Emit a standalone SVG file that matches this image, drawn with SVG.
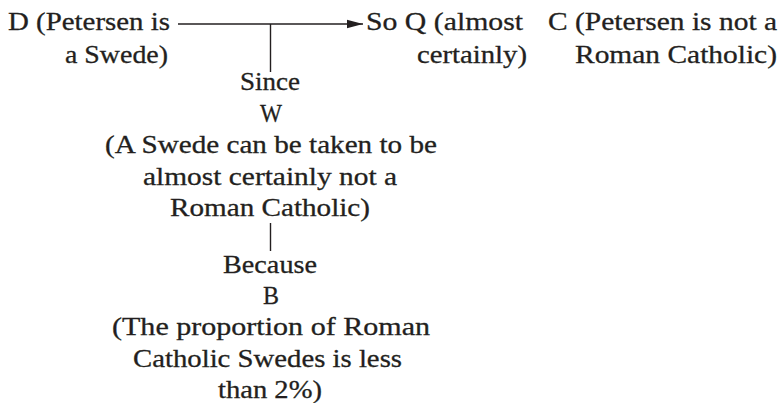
<svg xmlns="http://www.w3.org/2000/svg" width="779" height="403" viewBox="0 0 779 403">
<style>
text{font-family:"Liberation Serif","Times New Roman",serif;font-size:26px;fill:#231f20;stroke:#231f20;stroke-width:0.3}
.ln{stroke:#231f20;stroke-width:1.4;fill:none}
</style>
<defs>
<marker id="ah" markerWidth="16" markerHeight="10" refX="16" refY="5" orient="auto" markerUnits="userSpaceOnUse">
<path d="M0,0.8 L16,5 L0,9.2 Z" fill="#231f20"/>
</marker>
</defs>
<rect width="779" height="403" fill="#fff"/>
<g id="connectors">
<line class="ln" x1="178" y1="24" x2="363" y2="24" marker-end="url(#ah)"/>
<line class="ln" x1="270.5" y1="24" x2="270.5" y2="72"/>
<line class="ln" x1="270.5" y1="223" x2="270.5" y2="251"/>
</g>
<g id="D">
<text x="8" y="30" textLength="162" lengthAdjust="spacingAndGlyphs">D (Petersen is</text>
<text x="65" y="63" textLength="103" lengthAdjust="spacingAndGlyphs">a Swede)</text>
</g>
<g id="Q">
<text x="366" y="30" textLength="157" lengthAdjust="spacingAndGlyphs">So Q (almost</text>
<text x="417" y="63" textLength="110" lengthAdjust="spacingAndGlyphs">certainly)</text>
</g>
<g id="C">
<text x="548" y="30" textLength="229" lengthAdjust="spacingAndGlyphs">C (Petersen is not a</text>
<text x="575" y="63" textLength="202" lengthAdjust="spacingAndGlyphs">Roman Catholic)</text>
</g>
<g id="W">
<text x="240" y="90" textLength="60" lengthAdjust="spacingAndGlyphs">Since</text>
<text x="260" y="121.5" textLength="22" lengthAdjust="spacingAndGlyphs">W</text>
<text x="105" y="153" textLength="332" lengthAdjust="spacingAndGlyphs">(A Swede can be taken to be</text>
<text x="143" y="184.5" textLength="254" lengthAdjust="spacingAndGlyphs">almost certainly not a</text>
<text x="170" y="216" textLength="200" lengthAdjust="spacingAndGlyphs">Roman Catholic)</text>
</g>
<g id="B">
<text x="223" y="272.5" textLength="94" lengthAdjust="spacingAndGlyphs">Because</text>
<text x="263" y="303.5" textLength="16" lengthAdjust="spacingAndGlyphs">B</text>
<text x="112" y="335" textLength="318" lengthAdjust="spacingAndGlyphs">(The proportion of Roman</text>
<text x="133" y="366.5" textLength="269" lengthAdjust="spacingAndGlyphs">Catholic Swedes is less</text>
<text x="218" y="398" textLength="104" lengthAdjust="spacingAndGlyphs">than 2%)</text>
</g>
</svg>
